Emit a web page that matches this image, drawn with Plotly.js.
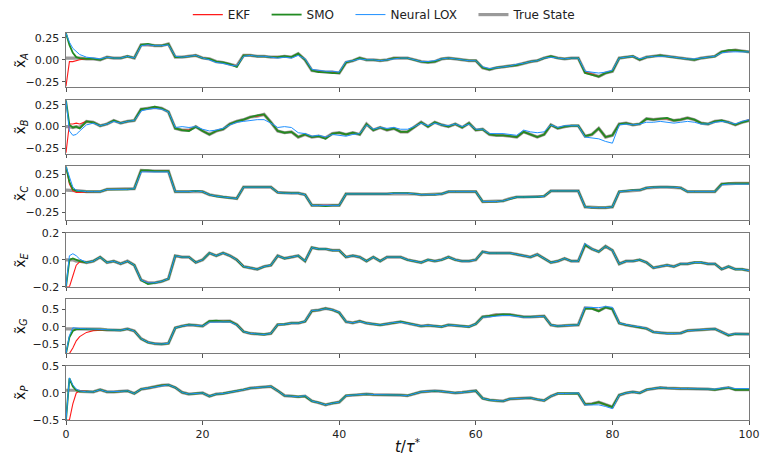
<!DOCTYPE html>
<html>
<head>
<meta charset="utf-8">
<script src="https://cdn.plot.ly/plotly-3.0.1.min.js"></script>
<style>
  html, body { margin: 0; padding: 0; background: #ffffff; }
  #chart { width: 761px; height: 456px; }
</style>
</head>
<body>
<div id="chart"></div>
<script>
// Normalised time t/tau*
const T = [0,0.5,1,1.5,2,
  3,4,5,6,7,8,9,10,
  11,12,13,14,15,16,17,18,19,20,
  21,22,23,24,25,26,27,28,29,30,
  31,32,33,34,35,36,37,38,39,40,
  41,42,43,44,45,46,47,48,49,50,
  51,52,53,54,55,56,57,58,59,60,
  61,62,63,64,65,66,67,68,69,70,
  71,72,73,74,75,76,77,78,79,80,
  81,82,83,84,85,86,87,88,89,90,
  91,92,93,94,95,96,97,98,99,100];

// ---- state A ----
const trueA = [0.02,0.02,0.02,0.02,0.02,
  0.01,0.01,0.0,0.03,0.02,0.02,0.04,0.02,
  0.17,0.17,0.16,0.16,0.18,0.03,0.03,0.04,0.05,0.02,
  0.01,-0.02,-0.03,-0.05,-0.07,0.05,0.05,0.04,0.04,0.03,
  0.03,0.04,0.03,0.07,0.0,-0.12,-0.13,-0.14,-0.14,-0.15,
  -0.03,-0.01,0.02,0.0,0.0,-0.01,0.0,0.02,0.02,0.02,
  0.0,-0.02,-0.03,-0.02,0.01,0.02,0.01,0.0,-0.01,-0.01,
  -0.09,-0.11,-0.09,-0.08,-0.07,-0.06,-0.04,-0.02,-0.01,0.02,
  0.04,0.02,0.01,0.02,0.02,-0.14,-0.16,-0.19,-0.15,-0.13,
  0.02,0.03,0.04,0.0,0.03,0.04,0.05,0.04,0.03,0.02,
  0.01,0.0,0.02,0.03,0.04,0.09,0.1,0.11,0.1,0.09];
const ekfA = [-0.3,-0.02,-0.02,-0.01,0.0,
  0.01,0.01,0.0,0.03,0.02,0.02,0.04,0.02,
  0.17,0.17,0.16,0.16,0.18,0.03,0.03,0.04,0.05,0.02,
  0.01,-0.02,-0.03,-0.05,-0.07,0.05,0.05,0.04,0.04,0.03,
  0.03,0.04,0.03,0.07,0.0,-0.12,-0.13,-0.14,-0.14,-0.15,
  -0.03,-0.01,0.02,0.0,0.0,-0.01,0.0,0.02,0.02,0.02,
  0.0,-0.02,-0.03,-0.02,0.01,0.02,0.01,0.0,-0.01,-0.01,
  -0.09,-0.11,-0.09,-0.08,-0.07,-0.06,-0.04,-0.02,-0.01,0.02,
  0.04,0.02,0.01,0.02,0.02,-0.14,-0.16,-0.19,-0.15,-0.13,
  0.02,0.03,0.04,0.0,0.03,0.04,0.05,0.04,0.03,0.02,
  0.01,0.0,0.02,0.03,0.04,0.09,0.1,0.11,0.1,0.09];
const smoA = [0.3,0.17,0.08,0.03,0.02,
  0.01,0.01,0.0,0.03,0.02,0.02,0.04,0.02,
  0.17,0.18,0.16,0.16,0.18,0.03,0.03,0.04,0.05,0.02,
  0.01,-0.02,-0.03,-0.05,-0.08,0.05,0.05,0.04,0.04,0.03,
  0.03,0.04,0.03,0.07,0.0,-0.12,-0.14,-0.14,-0.15,-0.15,
  -0.03,-0.01,0.02,0.0,0.0,-0.01,0.0,0.02,0.02,0.02,
  0.0,-0.02,-0.03,-0.02,0.01,0.02,0.01,0.0,-0.01,-0.01,
  -0.09,-0.11,-0.09,-0.08,-0.07,-0.06,-0.04,-0.02,-0.01,0.02,
  0.04,0.02,0.01,0.02,0.02,-0.15,-0.17,-0.19,-0.15,-0.13,
  0.02,0.03,0.04,0.0,0.03,0.04,0.05,0.04,0.03,0.02,
  0.01,0.0,0.02,0.03,0.04,0.09,0.11,0.11,0.1,0.09];
const loxA = [0.3,0.2,0.13,0.09,0.06,
  0.03,0.02,0.01,0.03,0.02,0.02,0.04,0.02,
  0.16,0.17,0.16,0.16,0.17,0.04,0.03,0.04,0.05,0.02,
  0.0,-0.03,-0.04,-0.06,-0.07,0.04,0.05,0.04,0.04,0.03,
  0.02,0.03,0.02,0.05,0.01,-0.11,-0.12,-0.13,-0.13,-0.14,
  -0.02,-0.01,0.01,0.0,0.0,-0.01,0.0,0.01,0.02,0.02,
  0.0,-0.02,-0.02,-0.01,0.01,0.02,0.01,0.0,-0.01,-0.01,
  -0.08,-0.1,-0.09,-0.08,-0.07,-0.05,-0.04,-0.02,-0.01,0.02,
  0.03,0.02,0.01,0.02,0.02,-0.13,-0.14,-0.15,-0.14,-0.12,
  0.02,0.03,0.04,0.01,0.03,0.04,0.04,0.04,0.03,0.02,
  0.01,0.01,0.02,0.03,0.04,0.08,0.09,0.09,0.09,0.09];

// ---- state B ----
const trueB = [0.0,0.0,-0.01,0.0,-0.01,
  0.06,0.05,0.01,0.03,0.07,0.04,0.06,0.07,
  0.2,0.21,0.22,0.21,0.17,-0.02,-0.04,-0.04,0.0,-0.05,
  -0.09,-0.05,-0.03,0.03,0.06,0.08,0.11,0.12,0.14,0.05,
  -0.05,-0.07,-0.06,-0.12,-0.09,-0.12,-0.11,-0.13,-0.08,-0.07,
  -0.09,-0.07,-0.09,0.03,-0.04,-0.01,-0.04,-0.02,-0.06,-0.06,
  -0.01,0.05,0.0,0.05,0.02,0.0,0.03,-0.01,0.04,-0.04,
  -0.03,-0.09,-0.1,-0.1,-0.11,-0.12,-0.06,-0.09,-0.12,-0.09,
  0.02,-0.02,0.0,0.01,0.01,-0.11,-0.09,-0.02,-0.12,-0.1,
  0.03,0.04,0.02,0.03,0.09,0.08,0.09,0.09,0.07,0.08,
  0.1,0.08,0.04,0.03,0.06,0.07,0.05,0.02,0.05,0.07];
const ekfB = [-0.3,0.03,0.03,0.04,0.03,
  0.06,0.05,0.01,0.03,0.07,0.04,0.06,0.07,
  0.2,0.21,0.22,0.21,0.17,-0.02,-0.04,-0.04,0.0,-0.05,
  -0.09,-0.05,-0.03,0.03,0.06,0.08,0.11,0.12,0.14,0.05,
  -0.05,-0.07,-0.06,-0.12,-0.09,-0.12,-0.11,-0.13,-0.08,-0.07,
  -0.09,-0.07,-0.09,0.03,-0.04,-0.01,-0.04,-0.02,-0.06,-0.06,
  -0.01,0.05,0.0,0.05,0.02,0.0,0.03,-0.01,0.04,-0.04,
  -0.03,-0.09,-0.1,-0.1,-0.11,-0.12,-0.06,-0.09,-0.12,-0.09,
  0.02,-0.02,0.0,0.01,0.01,-0.11,-0.09,-0.02,-0.12,-0.1,
  0.03,0.04,0.02,0.03,0.09,0.08,0.09,0.09,0.07,0.08,
  0.1,0.08,0.04,0.03,0.06,0.07,0.05,0.02,0.05,0.08];
const smoB = [0.3,0.02,-0.01,0.0,-0.02,
  0.06,0.05,0.01,0.03,0.07,0.04,0.06,0.07,
  0.2,0.21,0.23,0.21,0.17,-0.02,-0.04,-0.05,0.0,-0.05,
  -0.09,-0.05,-0.03,0.03,0.06,0.08,0.11,0.13,0.14,0.05,
  -0.05,-0.07,-0.06,-0.12,-0.09,-0.12,-0.11,-0.14,-0.08,-0.07,
  -0.09,-0.07,-0.09,0.03,-0.04,-0.01,-0.04,-0.02,-0.06,-0.06,
  -0.01,0.05,0.0,0.05,0.02,0.0,0.03,-0.01,0.04,-0.04,
  -0.03,-0.09,-0.1,-0.1,-0.11,-0.12,-0.06,-0.09,-0.12,-0.09,
  0.02,-0.02,0.0,0.01,0.01,-0.11,-0.09,-0.02,-0.12,-0.1,
  0.03,0.04,0.02,0.03,0.09,0.08,0.09,0.1,0.07,0.08,
  0.1,0.08,0.04,0.03,0.06,0.07,0.05,0.02,0.05,0.07];
const loxB = [0.3,-0.05,-0.1,-0.09,-0.05,
  0.02,0.04,0.01,0.03,0.06,0.04,0.06,0.07,
  0.18,0.2,0.21,0.2,0.17,-0.01,0.0,-0.01,0.0,-0.03,
  -0.05,-0.04,-0.02,0.02,0.05,0.06,0.07,0.08,0.08,0.04,
  -0.01,0.0,-0.01,-0.07,-0.08,-0.11,-0.1,-0.12,-0.09,-0.1,
  -0.11,-0.09,-0.08,0.02,-0.03,-0.01,-0.02,-0.01,-0.03,-0.03,
  0.0,0.04,0.01,0.04,0.02,0.01,0.03,0.0,0.03,-0.03,
  -0.03,-0.08,-0.08,-0.08,-0.09,-0.1,-0.04,-0.06,-0.07,-0.06,
  0.02,-0.01,0.01,0.01,0.01,-0.12,-0.13,-0.14,-0.17,-0.19,
  0.02,0.03,0.02,0.03,0.05,0.05,0.06,0.05,0.04,0.05,
  0.06,0.05,0.03,0.03,0.05,0.06,0.05,0.03,0.06,0.08];

// ---- state C ----
const trueC = [0.04,0.04,0.04,0.04,0.03,
  0.02,0.02,0.02,0.05,0.05,0.05,0.05,0.06,
  0.3,0.29,0.29,0.29,0.29,0.02,0.02,0.02,0.03,0.02,
  -0.02,-0.04,-0.05,-0.06,-0.07,0.08,0.08,0.08,0.08,0.08,
  0.01,0.0,0.0,0.0,-0.02,-0.16,-0.16,-0.16,-0.16,-0.16,
  -0.01,-0.01,-0.01,-0.01,-0.01,-0.01,-0.01,0.0,0.0,0.0,
  -0.01,-0.02,-0.02,-0.02,-0.01,0.02,0.02,0.02,0.02,0.02,
  -0.11,-0.11,-0.11,-0.1,-0.07,-0.05,-0.05,-0.05,-0.05,-0.04,
  0.03,0.03,0.03,0.03,0.03,-0.18,-0.19,-0.19,-0.19,-0.18,
  0.02,0.03,0.04,0.04,0.07,0.08,0.08,0.08,0.08,0.07,
  0.02,0.02,0.02,0.02,0.02,0.12,0.13,0.13,0.13,0.13];
const ekfC = [0.35,0.12,0.03,0.01,0.01,
  0.015,0.02,0.02,0.05,0.05,0.05,0.05,0.06,
  0.3,0.29,0.29,0.29,0.29,0.02,0.02,0.02,0.03,0.02,
  -0.02,-0.04,-0.05,-0.06,-0.07,0.08,0.08,0.08,0.08,0.08,
  0.01,0.0,0.0,0.0,-0.02,-0.16,-0.16,-0.16,-0.16,-0.16,
  -0.01,-0.01,-0.01,-0.01,-0.01,-0.01,-0.01,0.0,0.0,0.0,
  -0.01,-0.02,-0.02,-0.02,-0.01,0.02,0.02,0.02,0.02,0.02,
  -0.11,-0.11,-0.11,-0.1,-0.07,-0.05,-0.05,-0.05,-0.05,-0.04,
  0.03,0.03,0.03,0.03,0.03,-0.18,-0.19,-0.19,-0.19,-0.18,
  0.02,0.03,0.04,0.04,0.07,0.08,0.08,0.08,0.08,0.07,
  0.02,0.02,0.02,0.02,0.02,0.12,0.13,0.13,0.13,0.13];
const smoC = [0.35,0.15,0.05,0.03,0.03,
  0.02,0.02,0.02,0.05,0.05,0.05,0.05,0.06,
  0.3,0.3,0.29,0.29,0.29,0.02,0.02,0.02,0.03,0.02,
  -0.02,-0.04,-0.05,-0.06,-0.07,0.08,0.08,0.08,0.08,0.08,
  0.01,0.0,0.0,0.0,-0.02,-0.16,-0.16,-0.17,-0.16,-0.16,
  -0.01,-0.01,-0.01,-0.01,-0.01,-0.01,-0.01,0.0,0.0,0.0,
  -0.01,-0.02,-0.02,-0.02,-0.01,0.02,0.02,0.02,0.02,0.02,
  -0.11,-0.11,-0.11,-0.1,-0.07,-0.05,-0.05,-0.05,-0.05,-0.04,
  0.03,0.03,0.03,0.03,0.03,-0.18,-0.19,-0.19,-0.19,-0.18,
  0.02,0.03,0.04,0.04,0.07,0.08,0.08,0.08,0.08,0.07,
  0.02,0.02,0.02,0.02,0.02,0.12,0.13,0.13,0.13,0.13];
const loxC = [0.35,0.2,0.08,0.04,0.03,
  0.02,0.02,0.02,0.05,0.05,0.05,0.05,0.06,
  0.28,0.28,0.28,0.28,0.28,0.02,0.02,0.02,0.03,0.02,
  -0.02,-0.04,-0.05,-0.06,-0.07,0.08,0.08,0.08,0.08,0.08,
  0.01,0.0,0.0,0.0,-0.02,-0.16,-0.16,-0.16,-0.16,-0.16,
  -0.01,-0.01,-0.01,-0.01,-0.01,-0.01,-0.01,0.0,0.0,0.0,
  -0.01,-0.02,-0.02,-0.02,-0.01,0.02,0.02,0.02,0.02,0.02,
  -0.11,-0.11,-0.11,-0.1,-0.07,-0.05,-0.05,-0.05,-0.05,-0.04,
  0.03,0.03,0.03,0.03,0.03,-0.18,-0.19,-0.19,-0.19,-0.18,
  0.02,0.03,0.04,0.04,0.07,0.08,0.08,0.08,0.08,0.07,
  0.02,0.02,0.02,0.02,0.02,0.11,0.12,0.12,0.12,0.12];

// ---- state E ----
const trueE = [0.0,0.0,0.0,-0.01,-0.01,
  -0.02,-0.01,0.02,-0.02,-0.01,-0.03,-0.01,-0.04,
  -0.15,-0.17,-0.17,-0.16,-0.14,0.03,0.02,0.02,-0.02,0.0,
  0.05,0.03,0.05,0.03,0.0,-0.05,-0.06,-0.07,-0.05,-0.04,
  0.03,0.01,0.02,0.03,-0.01,0.09,0.08,0.08,0.07,0.07,
  0.02,0.03,0.02,-0.01,0.02,-0.01,0.02,0.02,0.02,0.0,
  -0.01,-0.02,0.0,-0.01,0.0,0.02,0.0,-0.01,-0.01,0.0,
  0.06,0.05,0.05,0.05,0.05,0.04,0.03,0.02,0.04,0.01,
  -0.02,-0.01,0.01,-0.01,-0.01,0.11,0.08,0.06,0.1,0.07,
  -0.03,-0.01,-0.01,0.0,-0.02,-0.06,-0.05,-0.04,-0.05,-0.03,
  -0.03,-0.02,-0.02,-0.03,-0.03,-0.07,-0.05,-0.07,-0.07,-0.08];
const ekfE = [-0.2,-0.2,-0.12,-0.04,-0.015,
  -0.02,-0.01,0.02,-0.02,-0.01,-0.03,-0.01,-0.04,
  -0.15,-0.17,-0.17,-0.16,-0.14,0.03,0.02,0.02,-0.02,0.0,
  0.05,0.03,0.05,0.03,0.0,-0.05,-0.06,-0.07,-0.05,-0.04,
  0.03,0.01,0.02,0.03,-0.01,0.09,0.08,0.08,0.07,0.07,
  0.02,0.03,0.02,-0.01,0.02,-0.01,0.02,0.02,0.02,0.0,
  -0.01,-0.02,0.0,-0.01,0.0,0.02,0.0,-0.01,-0.01,0.0,
  0.06,0.05,0.05,0.05,0.05,0.04,0.03,0.02,0.04,0.01,
  -0.02,-0.01,0.01,-0.01,-0.01,0.11,0.08,0.06,0.1,0.07,
  -0.03,-0.01,-0.01,0.0,-0.02,-0.06,-0.05,-0.04,-0.05,-0.03,
  -0.03,-0.02,-0.02,-0.03,-0.03,-0.07,-0.05,-0.07,-0.07,-0.08];
const smoE = [-0.2,0.0,0.01,0.0,-0.01,
  -0.02,-0.01,0.02,-0.02,-0.01,-0.03,-0.01,-0.04,
  -0.15,-0.18,-0.17,-0.16,-0.14,0.03,0.02,0.02,-0.02,0.0,
  0.05,0.03,0.05,0.03,0.0,-0.05,-0.06,-0.07,-0.05,-0.04,
  0.03,0.01,0.02,0.03,-0.01,0.09,0.08,0.08,0.07,0.07,
  0.02,0.03,0.02,-0.01,0.02,-0.01,0.02,0.02,0.02,0.0,
  -0.01,-0.02,0.0,-0.01,0.0,0.02,0.0,-0.01,-0.01,0.0,
  0.06,0.05,0.05,0.05,0.05,0.04,0.03,0.02,0.04,0.01,
  -0.02,-0.01,0.01,-0.01,-0.01,0.11,0.08,0.06,0.1,0.07,
  -0.03,-0.01,-0.01,0.0,-0.02,-0.06,-0.05,-0.04,-0.05,-0.03,
  -0.03,-0.02,-0.02,-0.03,-0.03,-0.07,-0.05,-0.07,-0.07,-0.08];
const loxE = [-0.2,0.03,0.045,0.03,0.005,
  -0.02,-0.01,0.02,-0.02,-0.01,-0.03,-0.01,-0.04,
  -0.15,-0.17,-0.17,-0.16,-0.14,0.03,0.02,0.02,-0.02,0.0,
  0.05,0.03,0.05,0.03,0.0,-0.05,-0.06,-0.07,-0.05,-0.04,
  0.03,0.01,0.02,0.03,-0.01,0.09,0.08,0.08,0.07,0.07,
  0.02,0.03,0.02,-0.01,0.02,-0.01,0.02,0.02,0.02,0.0,
  -0.01,-0.02,0.0,-0.01,0.0,0.02,0.0,-0.01,-0.01,0.0,
  0.06,0.05,0.05,0.05,0.05,0.04,0.03,0.02,0.04,0.01,
  -0.02,-0.01,0.01,-0.01,-0.01,0.12,0.08,0.06,0.1,0.07,
  -0.03,-0.01,-0.01,0.0,-0.02,-0.06,-0.05,-0.04,-0.05,-0.03,
  -0.03,-0.02,-0.02,-0.03,-0.03,-0.07,-0.05,-0.07,-0.07,-0.08];

// ---- state G ----
const trueG = [-0.06,-0.06,-0.06,-0.06,-0.065,
  -0.07,-0.07,-0.07,-0.09,-0.1,-0.1,-0.06,-0.12,
  -0.34,-0.44,-0.48,-0.49,-0.47,-0.03,0.02,0.05,0.04,0.02,
  0.15,0.16,0.15,0.16,0.06,-0.14,-0.19,-0.21,-0.22,-0.19,
  0.06,0.07,0.1,0.1,0.15,0.45,0.47,0.52,0.48,0.4,
  0.14,0.11,0.16,0.1,0.08,0.05,0.08,0.12,0.14,0.1,
  0.05,0.02,0.04,0.02,0.0,0.05,0.03,0.02,0.0,0.08,
  0.28,0.3,0.34,0.34,0.34,0.31,0.28,0.28,0.3,0.3,
  0.05,0.02,0.03,0.04,0.05,0.53,0.52,0.45,0.55,0.5,
  0.1,0.05,0.02,0.0,-0.05,-0.15,-0.18,-0.19,-0.19,-0.18,
  -0.11,-0.1,-0.1,-0.08,-0.06,-0.15,-0.24,-0.2,-0.21,-0.21];
const ekfG = [-0.76,-0.76,-0.6,-0.4,-0.28,
  -0.16,-0.11,-0.09,-0.09,-0.1,-0.1,-0.06,-0.12,
  -0.34,-0.44,-0.48,-0.49,-0.47,-0.03,0.02,0.05,0.04,0.02,
  0.15,0.16,0.15,0.16,0.06,-0.14,-0.19,-0.21,-0.22,-0.19,
  0.06,0.07,0.1,0.1,0.15,0.45,0.47,0.52,0.48,0.4,
  0.14,0.11,0.16,0.1,0.08,0.05,0.08,0.12,0.14,0.1,
  0.05,0.02,0.04,0.02,0.0,0.05,0.03,0.02,0.0,0.08,
  0.28,0.3,0.34,0.34,0.34,0.31,0.28,0.28,0.3,0.3,
  0.05,0.02,0.03,0.04,0.05,0.53,0.52,0.45,0.55,0.5,
  0.1,0.05,0.02,0.0,-0.05,-0.15,-0.18,-0.19,-0.19,-0.18,
  -0.11,-0.1,-0.1,-0.08,-0.06,-0.15,-0.24,-0.2,-0.21,-0.21];
const smoG = [-0.76,-0.3,-0.12,-0.07,-0.06,
  -0.07,-0.07,-0.07,-0.09,-0.1,-0.1,-0.06,-0.12,
  -0.34,-0.44,-0.48,-0.49,-0.47,-0.03,0.02,0.06,0.04,0.02,
  0.16,0.17,0.15,0.16,0.06,-0.14,-0.19,-0.21,-0.22,-0.19,
  0.06,0.07,0.1,0.1,0.15,0.45,0.47,0.52,0.48,0.4,
  0.14,0.11,0.16,0.1,0.08,0.05,0.08,0.12,0.14,0.1,
  0.05,0.02,0.04,0.02,0.0,0.05,0.03,0.02,0.0,0.08,
  0.28,0.31,0.34,0.35,0.34,0.31,0.28,0.28,0.3,0.3,
  0.05,0.02,0.03,0.04,0.05,0.52,0.51,0.44,0.55,0.5,
  0.1,0.05,0.02,0.0,-0.05,-0.15,-0.18,-0.19,-0.19,-0.18,
  -0.11,-0.1,-0.1,-0.08,-0.06,-0.15,-0.24,-0.2,-0.21,-0.21];
const loxG = [-0.76,-0.25,-0.03,-0.03,-0.05,
  -0.06,-0.07,-0.07,-0.09,-0.1,-0.1,-0.06,-0.12,
  -0.34,-0.44,-0.48,-0.49,-0.47,-0.03,0.02,0.05,0.04,0.02,
  0.13,0.14,0.13,0.14,0.05,-0.14,-0.19,-0.21,-0.22,-0.19,
  0.06,0.07,0.1,0.1,0.15,0.46,0.47,0.51,0.48,0.41,
  0.14,0.11,0.15,0.1,0.08,0.05,0.08,0.12,0.13,0.1,
  0.05,0.02,0.04,0.02,0.0,0.05,0.03,0.02,0.0,0.08,
  0.27,0.28,0.31,0.32,0.32,0.29,0.27,0.27,0.29,0.3,
  0.05,0.02,0.03,0.04,0.05,0.55,0.55,0.54,0.57,0.55,
  0.1,0.05,0.02,0.0,-0.05,-0.15,-0.18,-0.19,-0.19,-0.18,
  -0.11,-0.1,-0.1,-0.08,-0.06,-0.15,-0.23,-0.2,-0.21,-0.21];

// ---- state P ----
const trueP = [0.05,0.05,0.05,0.05,0.03,
  0.02,0.02,0.06,0.02,0.02,0.03,0.04,-0.01,
  0.07,0.09,0.12,0.14,0.15,0.1,0.01,-0.02,-0.01,0.0,
  -0.06,-0.02,-0.01,0.01,0.04,0.06,0.09,0.1,0.11,0.12,
  0.04,-0.05,-0.06,-0.07,-0.06,-0.15,-0.18,-0.22,-0.19,-0.17,
  -0.05,-0.04,-0.03,-0.02,-0.03,-0.03,-0.04,-0.03,-0.04,-0.05,
  -0.01,0.02,0.03,0.04,0.03,0.02,0.0,0.01,0.02,0.04,
  -0.1,-0.13,-0.14,-0.15,-0.11,-0.1,-0.1,-0.09,-0.12,-0.14,
  -0.06,-0.01,-0.01,-0.01,-0.01,-0.21,-0.2,-0.17,-0.22,-0.26,
  -0.04,0.0,0.02,0.0,0.06,0.08,0.1,0.09,0.08,0.08,
  0.08,0.08,0.08,0.07,0.06,0.08,0.1,0.06,0.06,0.06];
const ekfP = [-0.5,-0.5,-0.2,0.0,0.04,
  0.03,0.02,0.06,0.02,0.02,0.03,0.04,-0.01,
  0.07,0.09,0.12,0.14,0.15,0.1,0.01,-0.02,-0.01,0.0,
  -0.06,-0.02,-0.01,0.01,0.04,0.06,0.09,0.1,0.11,0.12,
  0.04,-0.05,-0.06,-0.07,-0.06,-0.15,-0.18,-0.22,-0.19,-0.17,
  -0.05,-0.04,-0.03,-0.02,-0.03,-0.03,-0.04,-0.03,-0.04,-0.05,
  -0.01,0.02,0.03,0.04,0.03,0.02,0.0,0.01,0.02,0.04,
  -0.1,-0.13,-0.14,-0.15,-0.11,-0.1,-0.1,-0.09,-0.12,-0.14,
  -0.06,-0.01,-0.01,-0.01,-0.01,-0.21,-0.2,-0.17,-0.22,-0.26,
  -0.04,0.0,0.02,0.0,0.06,0.08,0.1,0.09,0.08,0.08,
  0.08,0.08,0.08,0.07,0.06,0.08,0.1,0.06,0.06,0.06];
const smoP = [-0.5,0.27,0.12,0.05,0.03,
  0.02,0.02,0.06,0.02,0.02,0.03,0.04,-0.01,
  0.07,0.09,0.12,0.14,0.15,0.1,0.01,-0.02,-0.01,0.0,
  -0.06,-0.02,-0.01,0.01,0.04,0.06,0.09,0.1,0.11,0.12,
  0.04,-0.05,-0.06,-0.07,-0.06,-0.15,-0.18,-0.22,-0.19,-0.17,
  -0.05,-0.04,-0.03,-0.02,-0.03,-0.03,-0.04,-0.03,-0.04,-0.05,
  -0.01,0.02,0.03,0.04,0.03,0.02,0.0,0.01,0.02,0.04,
  -0.1,-0.13,-0.14,-0.15,-0.11,-0.1,-0.1,-0.09,-0.12,-0.14,
  -0.06,-0.01,-0.01,-0.01,-0.01,-0.21,-0.2,-0.17,-0.22,-0.26,
  -0.04,0.0,0.02,0.0,0.06,0.08,0.1,0.09,0.08,0.08,
  0.08,0.08,0.08,0.07,0.06,0.08,0.1,0.06,0.06,0.06];
const loxP = [-0.5,0.28,0.15,0.07,0.04,
  0.02,0.02,0.06,0.02,0.02,0.03,0.04,-0.01,
  0.07,0.09,0.12,0.14,0.15,0.1,0.01,-0.02,-0.01,0.0,
  -0.06,-0.02,-0.01,0.01,0.04,0.06,0.09,0.1,0.11,0.12,
  0.04,-0.05,-0.06,-0.07,-0.05,-0.15,-0.18,-0.22,-0.19,-0.17,
  -0.05,-0.04,-0.03,-0.02,-0.03,-0.03,-0.04,-0.03,-0.04,-0.05,
  -0.01,0.02,0.03,0.04,0.03,0.02,0.0,0.01,0.02,0.04,
  -0.1,-0.13,-0.14,-0.15,-0.11,-0.1,-0.1,-0.09,-0.12,-0.14,
  -0.06,-0.01,-0.01,-0.01,0.0,-0.22,-0.22,-0.22,-0.25,-0.29,
  -0.04,0.0,0.02,0.0,0.06,0.08,0.1,0.09,0.08,0.08,
  0.08,0.08,0.08,0.07,0.07,0.09,0.1,0.08,0.08,0.08];

// Panel metadata
const stateLetters = ['A','B','C','E','G','P'];
const yRanges = [[-0.309,0.304],[-0.31,0.31],[-0.355,0.355],[-0.2,0.2],[-0.755,0.775],[-0.5,0.5]];
const yTicks = [[-0.25,0,0.25],[-0.25,0,0.25],[-0.25,0,0.25],[-0.2,0,0.2],[-0.5,0,0.5],[-0.5,0,0.5]];
const yFormats = ['.2f','.2f','.2f','.1f','.1f','.1f'];
const xTicks = [0,20,40,60,80,100];
const NBSP = '\u00a0\u00a0\u00a0';

const panels = [
  {truth: trueA, ekf: ekfA, smo: smoA, lox: loxA},
  {truth: trueB, ekf: ekfB, smo: smoB, lox: loxB},
  {truth: trueC, ekf: ekfC, smo: smoC, lox: loxC},
  {truth: trueE, ekf: ekfE, smo: smoE, lox: loxE},
  {truth: trueG, ekf: ekfG, smo: smoG, lox: loxG},
  {truth: trueP, ekf: ekfP, smo: smoP, lox: loxP}
];

const FONT = 'DejaVu Sans, Verdana, sans-serif';
const FRAME = '#7a7a7a';
const STEP = 0.17206, H = 0.1397;

const traces = [];
const layout = {
  width: 761, height: 456,
  margin: {l: 66, r: 12, t: 33, b: 36},
  paper_bgcolor: '#ffffff', plot_bgcolor: '#ffffff',
  font: {family: FONT, size: 11, color: '#222222'},
  showlegend: true,
  legend: {
    orientation: 'h', xref: 'container', yref: 'container',
    x: 0.505, xanchor: 'center', y: 0.968, yanchor: 'middle',
    font: {family: FONT, size: 12, color: '#222222'},
    bgcolor: 'rgba(0,0,0,0)', traceorder: 'normal'
  },
  annotations: []
};

panels.forEach((p, i) => {
  const n = i + 1;
  const xa = 'x' + (n === 1 ? '' : n);
  const ya = 'y' + (n === 1 ? '' : n);
  const top = 1 - i * STEP;
  const dom = [Math.max(0, top - H), top];

  traces.push({x: T, y: p.truth, xaxis: xa, yaxis: ya, type: 'scatter', mode: 'lines',
    name: 'True State', legendrank: 4, showlegend: i === 0, legendgroup: 'true',
    line: {color: 'rgba(120,120,120,0.75)', width: 3.2}});
  traces.push({x: T, y: p.ekf, xaxis: xa, yaxis: ya, type: 'scatter', mode: 'lines',
    name: 'EKF' + NBSP, legendrank: 1, showlegend: i === 0, legendgroup: 'ekf',
    line: {color: '#ff1a1a', width: 1.1}});
  traces.push({x: T, y: p.smo, xaxis: xa, yaxis: ya, type: 'scatter', mode: 'lines',
    name: 'SMO' + NBSP, legendrank: 2, showlegend: i === 0, legendgroup: 'smo',
    line: {color: '#228b22', width: 1.8}});
  traces.push({x: T, y: p.lox, xaxis: xa, yaxis: ya, type: 'scatter', mode: 'lines',
    name: 'Neural LOX' + NBSP, legendrank: 3, showlegend: i === 0, legendgroup: 'lox',
    line: {color: '#1e90ff', width: 1.0}});

  layout['xaxis' + (n === 1 ? '' : n)] = {
    domain: [0, 1], anchor: ya, range: [0, 100],
    tickmode: 'array', tickvals: xTicks, showticklabels: i === 5,
    ticks: 'outside', ticklen: 3.5, tickwidth: 1, tickcolor: '#555555',
    showline: true, mirror: true, linecolor: FRAME, linewidth: 1,
    showgrid: false, zeroline: false,
    tickfont: {family: FONT, size: 11, color: '#222222'},
    title: i === 5 ? {text: '<i>t</i>/<i>τ</i><sup>*</sup>', font: {family: FONT, size: 15, color: '#111111'}, standoff: 4} : {text: ''}
  };
  layout['yaxis' + (n === 1 ? '' : n)] = {
    domain: dom, anchor: xa, range: yRanges[i],
    tickmode: 'array', tickvals: yTicks[i], tickformat: yFormats[i],
    ticks: 'outside', ticklen: 3.5, tickwidth: 1, tickcolor: '#555555',
    showline: true, mirror: true, linecolor: FRAME, linewidth: 1,
    showgrid: false, zeroline: false,
    tickfont: {family: FONT, size: 11, color: '#222222'}
  };
  layout.annotations.push({
    xref: 'paper', yref: 'paper', x: -0.066, y: (dom[0] + dom[1]) / 2,
    xanchor: 'center', yanchor: 'middle', textangle: -90, showarrow: false,
    text: 'x\u0303<sub><i>' + stateLetters[i] + '</i></sub>',
    font: {family: FONT, size: 14, color: '#111111'}
  });
});

Plotly.newPlot('chart', traces, layout, {displayModeBar: false, staticPlot: true});
</script>
</body>
</html>
